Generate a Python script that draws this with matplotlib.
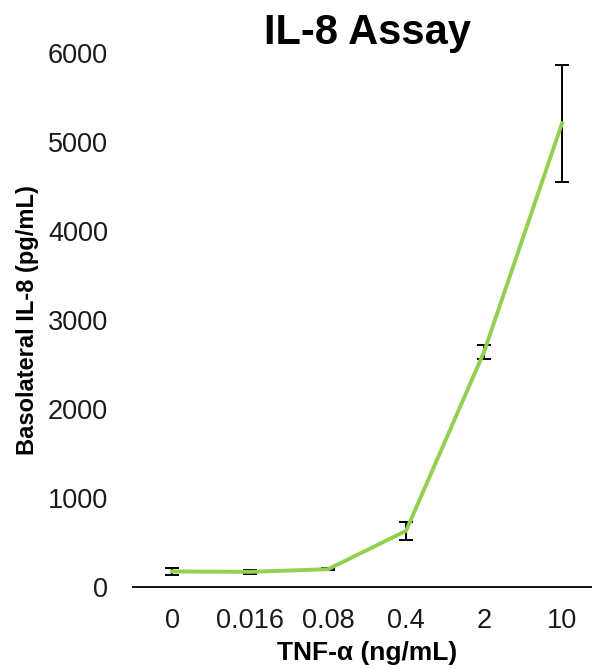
import matplotlib
matplotlib.use("Agg")
import matplotlib.pyplot as plt

categories = ["0", "0.016", "0.08", "0.4", "2", "10"]
il8 = [175, 170, 200, 630, 2640, 5210]
il8_err = [35, 20, 12, 100, 80, 660]
y_ticks = [0, 1000, 2000, 3000, 4000, 5000, 6000]

plt.rcParams['font.family'] = ['Liberation Sans', 'DejaVu Sans']

fig = plt.figure(figsize=(5.92, 6.69), dpi=100)
ax = fig.add_axes([133 / 592, (669 - 587) / 669, 468 / 592, (587 - 53) / 669])

x = list(range(len(categories)))
ax.errorbar(x, il8, yerr=il8_err, fmt='none', ecolor='black', elinewidth=1.4,
            capsize=5, capthick=1.4, zorder=2)
ax.plot(x, il8, color='#92D050', linewidth=2.8, zorder=3)

ax.set_xlim(-0.5, len(categories) - 0.5)
ax.set_ylim(0, 6000)
ax.set_xticks(x)
ax.set_xticklabels(categories)
ax.set_yticks(y_ticks)
ax.tick_params(axis='both', length=0, labelsize=19.5, colors='#1a1a1a')
ax.tick_params(axis='x', pad=15)
ax.tick_params(axis='y', pad=18)

for side in ['top', 'right', 'left']:
    ax.spines[side].set_visible(False)
ax.spines['bottom'].set_color('black')
ax.spines['bottom'].set_linewidth(1.3)

ax.set_title("IL-8 Assay", fontsize=30, fontweight='bold', pad=5)
ax.set_xlabel("TNF-α (ng/mL)", fontsize=19, fontweight='bold', labelpad=5)
ax.set_ylabel("Basolateral IL-8 (pg/mL)", fontsize=17, fontweight='bold', labelpad=6)

fig.savefig("out.png", dpi=100)
